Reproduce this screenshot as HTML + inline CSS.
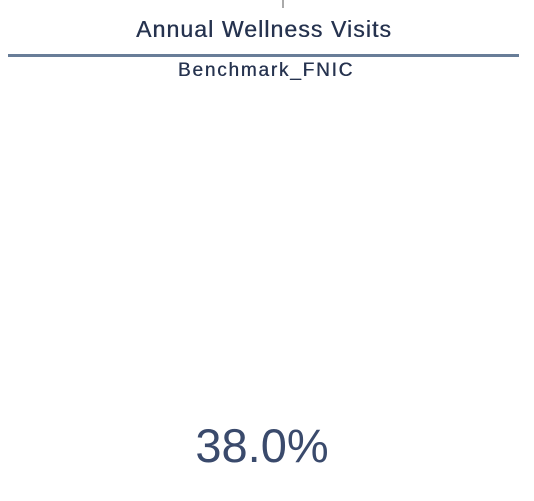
<!DOCTYPE html>
<html><head><meta charset="utf-8"><style>
body{margin:0;width:534px;height:501px;background:#fff;position:relative;overflow:hidden;font-family:"Liberation Sans",sans-serif;color:#26334f}
div{position:absolute}
</style></head><body>
<div style="left:282px;top:0;width:2px;height:8px;background:#aaa"></div>
<div style="left:0;width:528px;top:15px;text-align:center;font-size:23px;letter-spacing:1.1px;line-height:28px;text-shadow:0.4px 0 0 #26334f">Annual Wellness Visits</div>
<div style="left:8px;top:54px;width:511px;height:3px;background:#687d98"></div>
<div style="left:0;width:532px;top:60px;text-align:center;font-size:19px;letter-spacing:1.8px;line-height:22px;text-shadow:0.4px 0 0 #26334f">Benchmark_FNIC</div>
<div style="left:0;width:524px;top:419px;text-align:center;font-size:47px;line-height:54px;color:#3a4a6c">38.0%</div>
</body></html>
